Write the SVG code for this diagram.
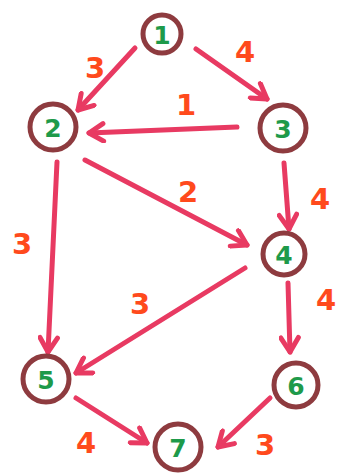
<svg xmlns="http://www.w3.org/2000/svg" width="352" height="474" viewBox="0 0 352 474">
<defs>
<marker id="arr" viewBox="0 0 20 20" refX="16" refY="10" markerWidth="22" markerHeight="22" markerUnits="userSpaceOnUse" orient="auto">
<path d="M3,2 L16,10 L3,18" fill="none" stroke="#e83a62" stroke-width="4.5" stroke-linecap="round" stroke-linejoin="round"/>
</marker>
</defs>
<style>
.node circle{fill:#fff;stroke:#8e3b3f;stroke-width:5}
.node text{font-family:"DejaVu Sans",sans-serif;font-weight:bold;font-size:25px;fill:#1e9a4a;text-anchor:middle;dominant-baseline:central}
.edge{fill:none;stroke:#e83a62;stroke-width:5;stroke-linecap:round;marker-end:url(#arr)}
.lbl{font-family:"DejaVu Sans",sans-serif;font-weight:bold;font-size:29px;fill:#ff4a1c;text-anchor:middle;dominant-baseline:central}
</style>
<rect width="352" height="474" fill="#fff"/>
<g id="connectors">
<path class="edge" d="M135,48 L78,110"/>
<path class="edge" d="M196,49 L267,99"/>
<path class="edge" d="M237,127 L89,133"/>
<path class="edge" d="M85,160 L247,245"/>
<path class="edge" d="M284,163 L289,229"/>
<path class="edge" d="M57,162 L48,352"/>
<path class="edge" d="M245,268 L76,373"/>
<path class="edge" d="M288,283 L290,352"/>
<path class="edge" d="M76,398 L147,443"/>
<path class="edge" d="M270,398 L218,447"/>
</g>
<g id="labels">
<text class="lbl" x="95" y="68">3</text>
<text class="lbl" x="245" y="52">4</text>
<text class="lbl" x="186" y="105">1</text>
<text class="lbl" x="188" y="192">2</text>
<text class="lbl" x="320" y="199">4</text>
<text class="lbl" x="22" y="244">3</text>
<text class="lbl" x="326" y="300">4</text>
<text class="lbl" x="140" y="304">3</text>
<text class="lbl" x="86" y="443">4</text>
<text class="lbl" x="265" y="445">3</text>
</g>
<g id="node1" class="node"><circle cx="162" cy="34" r="19"/><text x="162" y="35">1</text></g>
<g id="node2" class="node"><circle cx="53" cy="127" r="23"/><text x="53" y="128">2</text></g>
<g id="node3" class="node"><circle cx="283" cy="128" r="23"/><text x="283" y="129">3</text></g>
<g id="node4" class="node"><circle cx="284" cy="254" r="21"/><text x="284" y="255">4</text></g>
<g id="node5" class="node"><circle cx="46" cy="379" r="23"/><text x="46" y="380">5</text></g>
<g id="node6" class="node"><circle cx="296" cy="385" r="22"/><text x="296" y="386">6</text></g>
<g id="node7" class="node"><circle cx="178" cy="447" r="23"/><text x="178" y="448">7</text></g>
</svg>
